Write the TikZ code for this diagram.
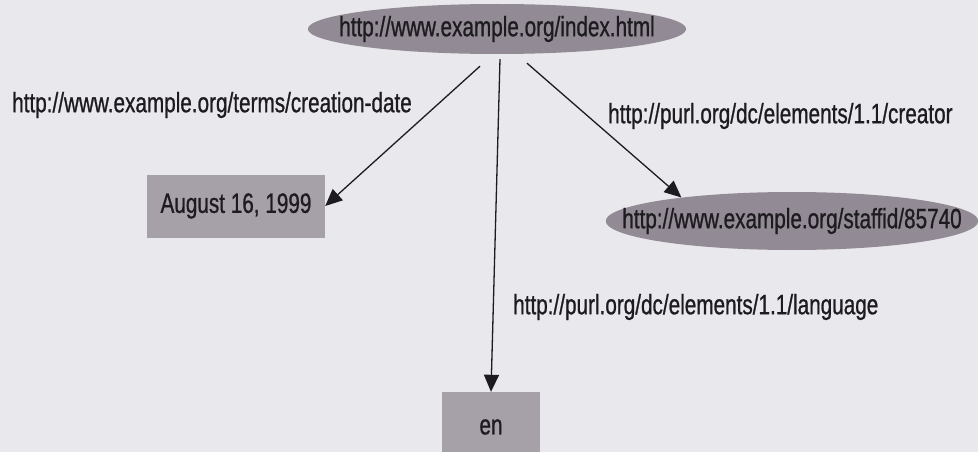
\documentclass[tikz,border=0pt]{standalone}
\usepackage{fontspec}
\usepackage{xcolor}
\usetikzlibrary{positioning,arrows.meta,shapes.geometric}
\newfontfamily\rdffont[FakeStretch=0.74,FakeBold=0.8]{Liberation Sans}
\definecolor{rdfpaper}{RGB}{233,232,236}
\definecolor{rdfnode}{RGB}{146,139,149}
\definecolor{rdfbox}{RGB}{166,160,169}
\definecolor{rdfink}{RGB}{30,27,32}
\tikzset{
    rdfresource/.style={ellipse, fill=rdfnode, inner ysep=0pt, text=rdfink, font=\rdffont\fontsize{28}{30}\selectfont},
    rdfliteral/.style={rectangle, fill=rdfbox, inner sep=0pt, text=rdfink, font=\rdffont\fontsize{28}{30}\selectfont},
    rdflabel/.style={anchor=west, inner sep=0pt, text=rdfink, font=\rdffont\fontsize{28}{30}\selectfont},
    rdfarrow/.style={draw=rdfink, line width=1.3pt, -{Triangle[length=17pt,width=15pt]}}
}

\begin{document}
\begin{tikzpicture}[x=1pt, y=-1pt]
    \useasboundingbox (0,0) rectangle (978,452);
    \clip (0,0) rectangle (978,452);
    \fill[rdfpaper] (0,0) rectangle (978,452);

    \node[rdfresource, inner xsep=-24pt, minimum height=50pt] (index) at (497,29) {http://www.example.org/index.html};
    \node[rdfliteral, minimum width=178pt, minimum height=63pt] (date) at (236,206) {August 16, 1999};
    \node[rdfresource, inner xsep=-38pt, minimum height=58pt] (staff) at (792,221) {http://www.example.org/staffid/85740};
    \node[rdfliteral, minimum width=98pt, minimum height=70pt] (lang) at (491,427) {en};

    \node[rdflabel] (datelabel) at (12,105) {http://www.example.org/terms/creation-date};
    \node[rdflabel] (creatorlabel) at (608,116) {http://purl.org/dc/elements/1.1/creator};
    \node[rdflabel] (langlabel) at (513,307) {http://purl.org/dc/elements/1.1/language};

    \draw[rdfarrow] ([shift={(-17,12)}]index.south) -- (date.east);
    \draw[rdfarrow] ([shift={(30,9)}]index.south) -- (staff.168);
    \draw[rdfarrow] ([shift={(3,5)}]index.south) -- (lang.north);
\end{tikzpicture}
\end{document}
